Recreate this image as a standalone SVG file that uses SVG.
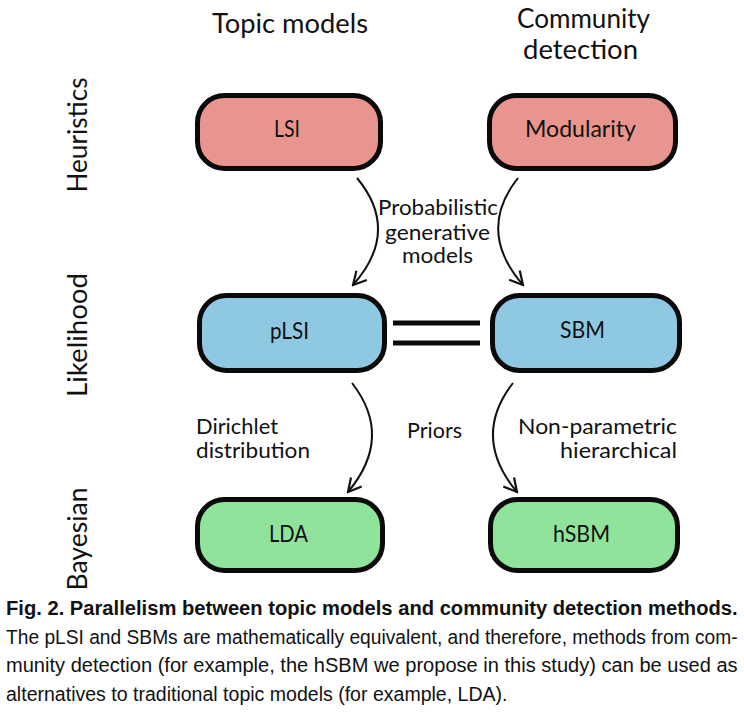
<svg xmlns="http://www.w3.org/2000/svg" width="744" height="715" viewBox="0 0 744 715">
<style>
.lbl{font-family:Lato,"Open Sans","DejaVu Sans",sans-serif;fill:#111;}
.hd{font-size:26px;text-anchor:middle;}
.bx{font-size:23px;text-anchor:middle;}
.al{font-size:21px;}
.box{stroke:#0a0a0a;stroke-width:5;}
.red{fill:#E8958F;}
.blue{fill:#8FC8E3;}
.green{fill:#90E39B;}
.arr{fill:none;stroke:#111;stroke-width:2;marker-end:url(#ah);}
.cap{font-family:"Liberation Sans",Arial,sans-serif;font-size:21px;fill:#111;}
</style>
<defs>
<marker id="ah" markerUnits="userSpaceOnUse" markerWidth="18" markerHeight="18" viewBox="0 0 18 18" refX="16" refY="9" orient="auto">
<path d="M3,2 L16,9 L3,16" fill="none" stroke="#111" stroke-width="2.2" stroke-linejoin="miter"/>
</marker>
</defs>
<rect width="744" height="715" fill="#fff"/>

<g id="headers" class="lbl">
<text class="hd" x="290" y="33" textLength="156" lengthAdjust="spacingAndGlyphs">Topic models</text>
<text class="hd" x="583.5" y="28" textLength="133" lengthAdjust="spacingAndGlyphs">Community</text>
<text class="hd" x="580.5" y="59" textLength="115" lengthAdjust="spacingAndGlyphs">detection</text>
</g>

<g id="rows" class="lbl">
<text class="hd" x="87" y="135" transform="rotate(-90 87 135)" textLength="115" lengthAdjust="spacingAndGlyphs">Heuristics</text>
<text class="hd" x="87" y="335" transform="rotate(-90 87 335)" textLength="124" lengthAdjust="spacingAndGlyphs">Likelihood</text>
<text class="hd" x="87" y="539" transform="rotate(-90 87 539)" textLength="103" lengthAdjust="spacingAndGlyphs">Bayesian</text>
</g>

<g id="node-lsi">
<rect class="box red" x="197.5" y="95.5" width="183" height="73" rx="27"/>
<text class="lbl bx" x="287" y="137" textLength="26" lengthAdjust="spacingAndGlyphs">LSI</text>
</g>
<g id="node-modularity">
<rect class="box red" x="489.5" y="95.5" width="186" height="73" rx="27"/>
<text class="lbl bx" x="580.5" y="137" textLength="111" lengthAdjust="spacingAndGlyphs">Modularity</text>
</g>
<g id="node-plsi">
<rect class="box blue" x="199.5" y="295.5" width="185" height="75" rx="27"/>
<text class="lbl bx" x="289.5" y="339" textLength="39" lengthAdjust="spacingAndGlyphs">pLSI</text>
</g>
<g id="node-sbm">
<rect class="box blue" x="492.5" y="295.5" width="187" height="75" rx="27"/>
<text class="lbl bx" x="582.5" y="338" textLength="45" lengthAdjust="spacingAndGlyphs">SBM</text>
</g>
<g id="node-lda">
<rect class="box green" x="197.5" y="499.5" width="185" height="71" rx="27"/>
<text class="lbl bx" x="288.5" y="542" textLength="39" lengthAdjust="spacingAndGlyphs">LDA</text>
</g>
<g id="node-hsbm">
<rect class="box green" x="490.5" y="499.5" width="187" height="71" rx="27"/>
<text class="lbl bx" x="581.5" y="542" textLength="57" lengthAdjust="spacingAndGlyphs">hSBM</text>
</g>

<g id="connectors">
<path class="arr" d="M357,178 Q401,231 353,285"/>
<path class="arr" d="M518,178 Q476,231 523,285"/>
<path class="arr" d="M352,383 Q394,437 348,492"/>
<path class="arr" d="M513,383 Q471,437 517,492"/>
<line x1="393" y1="323" x2="480" y2="323" stroke="#0a0a0a" stroke-width="5"/>
<line x1="393" y1="343" x2="480" y2="343" stroke="#0a0a0a" stroke-width="5"/>
</g>

<g id="edge-labels" class="lbl al">
<text x="438" y="215" text-anchor="middle" textLength="120" lengthAdjust="spacingAndGlyphs">Probabilistic</text>
<text x="437.5" y="240" text-anchor="middle" textLength="105" lengthAdjust="spacingAndGlyphs">generative</text>
<text x="437.5" y="263" text-anchor="middle" textLength="71" lengthAdjust="spacingAndGlyphs">models</text>
<text x="196" y="434" textLength="82" lengthAdjust="spacingAndGlyphs">Dirichlet</text>
<text x="196" y="458" textLength="114" lengthAdjust="spacingAndGlyphs">distribution</text>
<text x="407" y="438" textLength="55" lengthAdjust="spacingAndGlyphs">Priors</text>
<text x="677" y="434" text-anchor="end" textLength="159" lengthAdjust="spacingAndGlyphs">Non-parametric</text>
<text x="677" y="458" text-anchor="end" textLength="117" lengthAdjust="spacingAndGlyphs">hierarchical</text>
</g>

<g id="caption" class="cap">
<text transform="translate(6 615) scale(0.78 1)" x="0" y="0" font-weight="bold" textLength="938" lengthAdjust="spacingAndGlyphs">Fig. 2.  Parallelism between topic models and community detection methods.</text>
<text transform="translate(6 643.5) scale(0.84 1)" x="0" y="0" textLength="871" lengthAdjust="spacingAndGlyphs">The pLSI and SBMs are mathematically equivalent, and therefore, methods from com-</text>
<text transform="translate(6 672) scale(0.84 1)" x="0" y="0" textLength="871" lengthAdjust="spacingAndGlyphs">munity detection (for example, the hSBM we propose in this study) can be used as</text>
<text transform="translate(6 700.5) scale(0.84 1)" x="0" y="0" textLength="597" lengthAdjust="spacingAndGlyphs">alternatives to traditional topic models (for example, LDA).</text>
</g>
</svg>
